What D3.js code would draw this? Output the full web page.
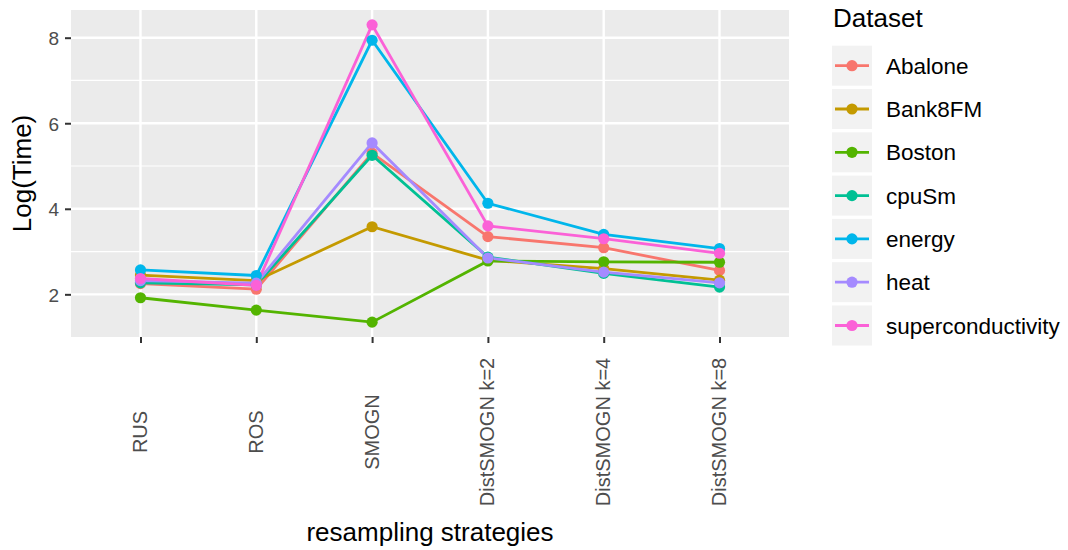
<!DOCTYPE html>
<html>
<head>
<meta charset="utf-8">
<script src="https://cdn.jsdelivr.net/npm/d3@7"></script>
<style>
  body { margin: 0; background: #fff; }
  text { font-family: "Liberation Sans", Arial, sans-serif; }
</style>
</head>
<body>
<svg id="chart" width="1068" height="550"></svg>
<script>
// categories on the x axis
const strategies = ["RUS", "ROS", "SMOGN", "DistSMOGN k=2", "DistSMOGN k=4", "DistSMOGN k=8"];

// Log(Time) per dataset
const datasets = ["Abalone", "Bank8FM", "Boston", "cpuSm", "energy", "heat", "superconductivity"];
const abalone = [2.25, 2.12, 5.30, 3.35, 3.09, 2.56];
const bank8fm = [2.45, 2.32, 3.58, 2.80, 2.60, 2.33];
const boston = [1.92, 1.63, 1.35, 2.78, 2.76, 2.75];
const cpuSm = [2.27, 2.22, 5.25, 2.87, 2.49, 2.17];
const energy = [2.57, 2.44, 7.94, 4.13, 3.40, 3.07];
const heat = [2.32, 2.26, 5.54, 2.85, 2.52, 2.27];
const supercond = [2.37, 2.21, 8.30, 3.60, 3.30, 2.96];
const yTicks = [2, 4, 6, 8];
const yMinor = [3, 5, 7];

const seriesValues = [abalone, bank8fm, boston, cpuSm, energy, heat, supercond];
const series = datasets.map((name, i) => ({
  name,
  values: seriesValues[i].map((v, j) => ({ cat: strategies[j], v }))
}));

const svg = d3.select("#chart");
const panel = { left: 71, right: 789, top: 10, bottom: 337 };

const color = d3.scaleOrdinal()
  .domain(datasets)
  .range(["#F8766D", "#C49A00", "#53B400", "#00C094", "#00B6EB", "#A58AFF", "#FB61D7"]);

// discrete x scale with ggplot's 0.6 expansion
const x = d3.scalePoint()
  .domain(strategies)
  .range([panel.left, panel.right])
  .padding(0.6);

// continuous y with 5% expansion
const all = seriesValues.flat();
const [lo, hi] = d3.extent(all);
const pad = (hi - lo) * 0.05;
const y = d3.scaleLinear()
  .domain([lo - pad, hi + pad])
  .range([panel.bottom, panel.top]);

// panel background
svg.append("rect")
  .attr("x", panel.left).attr("y", panel.top)
  .attr("width", panel.right - panel.left)
  .attr("height", panel.bottom - panel.top)
  .attr("fill", "#EBEBEB");

const grid = svg.append("g");
grid.selectAll(".minor").data(yMinor).join("line")
  .attr("x1", panel.left).attr("x2", panel.right)
  .attr("y1", d => y(d)).attr("y2", d => y(d))
  .attr("stroke", "#fff").attr("stroke-width", 1.2);
grid.selectAll(".major").data(yTicks).join("line")
  .attr("x1", panel.left).attr("x2", panel.right)
  .attr("y1", d => y(d)).attr("y2", d => y(d))
  .attr("stroke", "#fff").attr("stroke-width", 2.4);
grid.selectAll(".vmajor").data(strategies).join("line")
  .attr("x1", d => x(d)).attr("x2", d => x(d))
  .attr("y1", panel.top).attr("y2", panel.bottom)
  .attr("stroke", "#fff").attr("stroke-width", 2.4);

// lines, then points
const line = d3.line().x(d => x(d.cat)).y(d => y(d.v));
svg.append("g").selectAll("path").data(series).join("path")
  .attr("d", d => line(d.values))
  .attr("fill", "none")
  .attr("stroke", d => color(d.name))
  .attr("stroke-width", 2.8);

svg.append("g").selectAll("g").data(series).join("g")
  .attr("fill", d => color(d.name))
  .selectAll("circle").data(d => d.values).join("circle")
  .attr("cx", d => x(d.cat))
  .attr("cy", d => y(d.v))
  .attr("r", 5.6);

// y axis
const yAxis = svg.append("g")
  .attr("transform", `translate(${panel.left},0)`)
  .call(d3.axisLeft(y).tickValues(yTicks).tickSize(6).tickPadding(6).tickFormat(d3.format("d")));
yAxis.select(".domain").remove();
yAxis.selectAll(".tick line").attr("stroke", "#333").attr("stroke-width", 2);
yAxis.selectAll(".tick text")
  .attr("fill", "#4D4D4D")
  .style("font-size", "19px")
  .attr("dy", "0.36em");

// x axis with rotated labels
const xAxis = svg.append("g")
  .attr("transform", `translate(0,${panel.bottom})`)
  .call(d3.axisBottom(x).tickSize(6).tickFormat(d => d));
xAxis.select(".domain").remove();
xAxis.selectAll(".tick line").attr("stroke", "#333").attr("stroke-width", 2);
xAxis.selectAll(".tick text")
  .attr("fill", "#4D4D4D")
  .style("font-size", "20px")
  .attr("text-anchor", "middle")
  .attr("transform", "translate(0,95) rotate(-90)")
  .attr("x", 0).attr("y", 0)
  .attr("dy", "0.3em");

// axis titles
svg.append("text")
  .attr("x", (panel.left + panel.right) / 2).attr("y", 541)
  .attr("text-anchor", "middle")
  .style("font-size", "26px")
  .text("resampling strategies");
svg.append("text")
  .attr("transform", `translate(31,${(panel.top + panel.bottom) / 2}) rotate(-90)`)
  .attr("text-anchor", "middle")
  .style("font-size", "26px")
  .text("Log(Time)");

// legend
const legend = svg.append("g").attr("transform", "translate(832,0)");
legend.append("text")
  .attr("x", 1).attr("y", 26.5)
  .style("font-size", "26px")
  .text("Dataset");
const item = legend.selectAll(".item").data(datasets).join("g")
  .attr("transform", (d, i) => `translate(0,${45.7 + i * 43.3})`);
item.append("rect")
  .attr("width", 40).attr("height", 40)
  .attr("fill", "#F2F2F2");
item.append("line")
  .attr("x1", 3).attr("x2", 37).attr("y1", 20).attr("y2", 20)
  .attr("stroke", d => color(d)).attr("stroke-width", 2.8);
item.append("circle")
  .attr("cx", 20).attr("cy", 20).attr("r", 5.6)
  .attr("fill", d => color(d));
item.append("text")
  .attr("x", 54).attr("y", 20).attr("dy", "0.36em")
  .style("font-size", "22.5px")
  .text(d => d);
</script>
</body>
</html>
